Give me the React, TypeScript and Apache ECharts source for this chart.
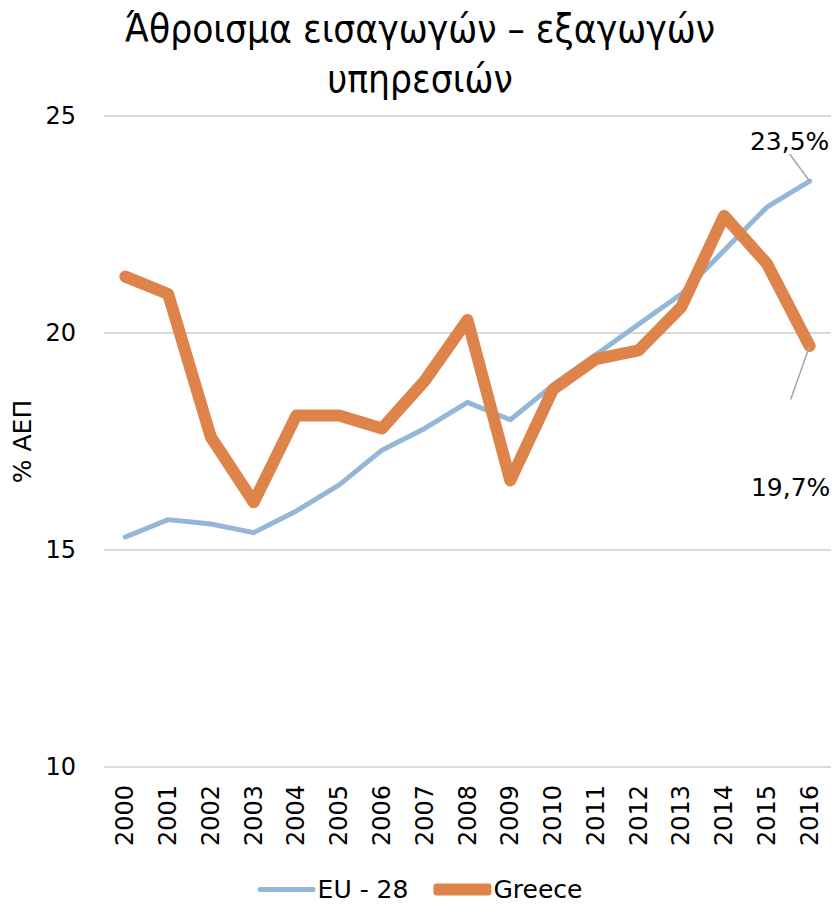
import React, { useEffect, useRef } from "react";
import * as echarts from "echarts";

const years = ["2000","2001","2002","2003","2004","2005","2006","2007","2008","2009","2010","2011","2012","2013","2014","2015","2016"];
const eu28 = [15.3, 15.7, 15.6, 15.4, 15.9, 16.5, 17.3, 17.8, 18.4, 18.0, 18.8, 19.5, 20.2, 20.9, 21.9, 22.9, 23.5];
const greece = [21.3, 20.9, 17.6, 16.1, 18.1, 18.1, 17.8, 18.9, 20.3, 16.6, 18.7, 19.4, 19.6, 20.6, 22.7, 21.6, 19.7];
const yTicks = { min: 10, max: 25, interval: 5 };
const titleText = "Άθροισμα εισαγωγών – εξαγωγών\nυπηρεσιών";
const yName = "% ΑΕΠ";
const endLabels = ["23,5%", "19,7%"];

const FONT = "'DejaVu Sans', sans-serif";

export default function App() {
  const ref = useRef<HTMLDivElement>(null);
  useEffect(() => {
    document.body.style.margin = "0";
    if (!ref.current) return;
    const chart = echarts.init(ref.current, undefined, { renderer: "svg" });
    const last = years.length - 1;
    const mk = (arr: number[], lbl: string, pos: string) =>
      arr.map((v, i) =>
        i === last
          ? { value: v, label: { show: true, position: pos, formatter: lbl } }
          : v
      );
    chart.setOption({
      animation: false,
      backgroundColor: "#ffffff",
      title: {
        text: titleText,
        left: "center",
        top: -2,
        textStyle: {
          fontFamily: "'DejaVu Sans Condensed', sans-serif",
          fontWeight: "normal",
          fontSize: 38.5,
          lineHeight: 50,
          color: "#000000",
        },
      },
      grid: { left: 104, right: 9, top: 116, bottom: 137 },
      legend: {
        bottom: -3,
        left: "center",
        itemWidth: 58,
        itemHeight: 12,
        itemGap: 25,
        textStyle: { fontFamily: FONT, fontSize: 25, color: "#000", padding: [0, 0, 0, -3] },
        data: [
          { name: "EU - 28", icon: "path://M2.5,0 L55.5,0 A2.5,2.5 0 0 1 55.5,5 L2.5,5 A2.5,2.5 0 0 1 2.5,0 Z" },
          { name: "Greece", icon: "roundRect" },
        ],
      },
      xAxis: {
        type: "category",
        data: years,
        boundaryGap: true,
        axisLine: { show: false },
        axisTick: { show: false },
        axisLabel: {
          rotate: 90,
          margin: 18,
          fontFamily: FONT,
          fontSize: 24,
          color: "#000",
          interval: 0,
        },
      },
      yAxis: {
        type: "value",
        min: yTicks.min,
        max: yTicks.max,
        interval: yTicks.interval,
        name: yName,
        nameLocation: "middle",
        nameGap: 52,
        nameRotate: 90,
        nameTextStyle: { fontFamily: FONT, fontSize: 25, color: "#000" },
        axisLine: { show: false },
        axisTick: { show: false },
        axisLabel: { fontFamily: FONT, fontSize: 24, color: "#000", margin: 28 },
        splitLine: { lineStyle: { color: "#d9d9d9", width: 2 } },
      },
      series: [
        {
          name: "EU - 28",
          type: "line",
          data: mk(eu28, endLabels[0], "top"),
          showSymbol: true,
          symbol: "circle",
          symbolSize: 0.1,
          color: "#95B7D7",
          lineStyle: { width: 5, color: "#95B7D7", cap: "round", join: "round" },
          label: { show: false, fontFamily: FONT, fontSize: 25, color: "#000" },
          labelLine: { show: true, lineStyle: { color: "#a6a6a6", width: 1.5 } },
          labelLayout: { dx: -20, dy: -22 },
          z: 2,
        },
        {
          name: "Greece",
          type: "line",
          data: mk(greece, "{s|}\n" + endLabels[1], "bottom"),
          showSymbol: true,
          symbol: "circle",
          symbolSize: 0.1,
          color: "#DE834A",
          lineStyle: { width: 12, color: "#DE834A", cap: "round", join: "round" },
          label: {
            show: false,
            fontFamily: FONT,
            fontSize: 25,
            color: "#000",
            rich: { s: { lineHeight: 126, fontSize: 25 } },
          },
          labelLine: { show: true, lineStyle: { color: "#a6a6a6", width: 1.5 } },
          labelLayout: { dx: -19, dy: -2 },
          z: 3,
        },
      ],
    });
    return () => chart.dispose();
  }, []);
  return <div ref={ref} style={{ width: 840, height: 904 }} />;
}
